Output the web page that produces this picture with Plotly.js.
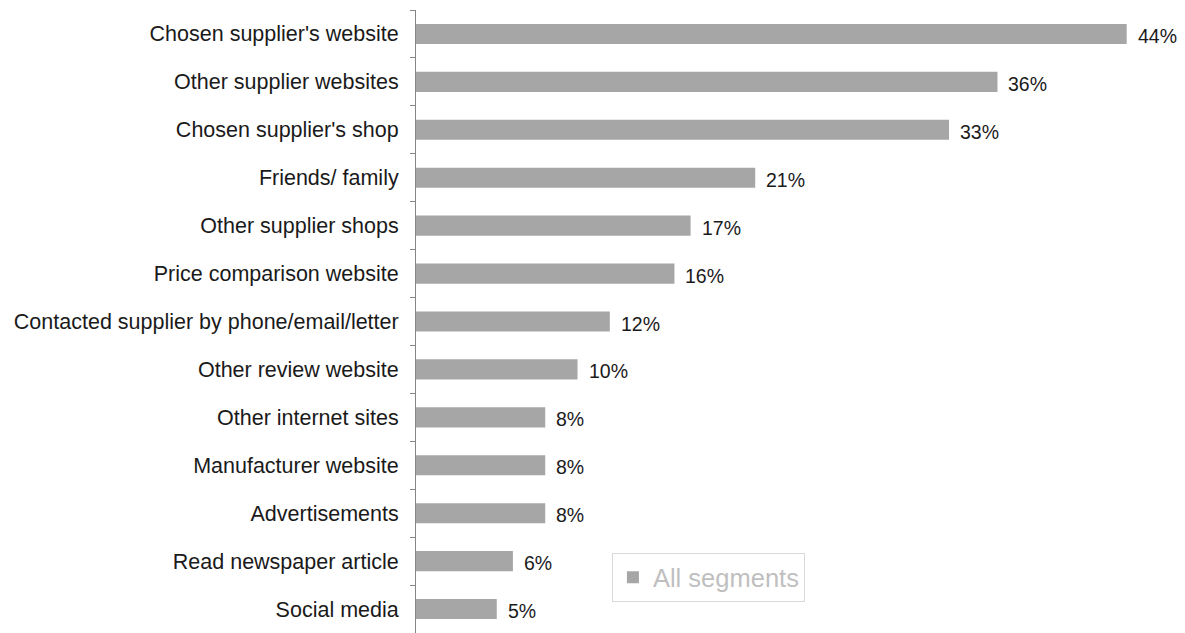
<!DOCTYPE html>
<html><head><meta charset="utf-8">
<script src="https://cdn.plot.ly/plotly-3.0.1.min.js"></script>
<style>html,body{margin:0;padding:0;background:#fff}#c{width:1185px;height:633px}</style>
</head><body><div id="c"></div>
<script>
const categories = ["Chosen supplier's website","Other supplier websites","Chosen supplier's shop","Friends/ family","Other supplier shops","Price comparison website","Contacted supplier by phone/email/letter","Other review website","Other internet sites","Manufacturer website","Advertisements","Read newspaper article","Social media"];
const values = [44,36,33,21,17,16,12,10,8,8,8,6,5];
const labels = values.map(v => v + '%');
const seriesName = 'All segments';

const FONT = 'Liberation Sans, Arial, sans-serif';
const annotations = categories.map((c, i) => ({
  x: values[i], y: c, xref: 'x', yref: 'y', text: labels[i],
  showarrow: false, xanchor: 'left', yanchor: 'middle', xshift: 9, yshift: -2,
  font: {family: FONT, size: 19.5, color: '#1a1a1a'}
}));

Plotly.newPlot('c', [{
  type: 'bar', orientation: 'h', name: seriesName,
  y: categories, x: values,
  marker: {color: '#a6a6a6'}, width: 0.42,
  hoverinfo: 'none'
}], {
  width: 1185, height: 633,
  margin: {l: 416, r: 26, t: 10, b: 0, pad: 0},
  paper_bgcolor: '#fff', plot_bgcolor: '#fff',
  showlegend: true,
  annotations: annotations,
  legend: {x: 0.2637, y: 0.128, xanchor: 'left', yanchor: 'top',
    bordercolor: '#d9d9d9', borderwidth: 1, bgcolor: '#fff',
    font: {family: FONT, size: 25.5, color: '#bfbfbf'}},
  xaxis: {range: [0, 46], showgrid: false, zeroline: false, showline: false, showticklabels: false, ticks: ''},
  yaxis: {autorange: 'reversed', type: 'category', showgrid: false, zeroline: false,
    showline: true, linecolor: '#868686', linewidth: 1,
    ticks: 'outside', ticklen: 5, tickcolor: '#868686', tickson: 'boundaries',
    ticklabelstandoff: 12,
    tickfont: {family: FONT, size: 21.5, color: '#1a1a1a'}},
  font: {family: FONT}
}, {staticPlot: true});
</script></body></html>
